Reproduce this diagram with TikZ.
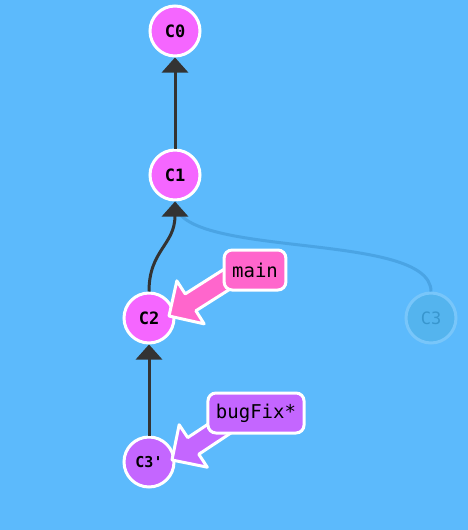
\documentclass[tikz,border=0pt]{standalone}
\usepackage{fontspec}
\setmonofont{DejaVu Sans Mono}
\usetikzlibrary{arrows.meta,calc}
\definecolor{bgblue}{RGB}{92,186,252}
\definecolor{commitpink}{RGB}{245,102,255}
\definecolor{mainpink}{RGB}{255,102,204}
\definecolor{fixpurple}{RGB}{196,102,255}
\definecolor{edgegray}{RGB}{51,51,51}
\definecolor{ghostfill}{RGB}{84,180,238}
\definecolor{ghostrim}{RGB}{120,198,250}
\definecolor{ghosttext}{RGB}{56,150,206}
\definecolor{ghostline}{RGB}{74,164,228}
\pgfdeclarelayer{front}
\pgfsetlayers{main,front}

\begin{document}
\begin{tikzpicture}[x=1pt, y=-1pt,
    commit/.style={circle, draw=white, line width=3pt, fill=commitpink, minimum size=50pt, inner sep=0pt, font=\ttfamily\bfseries\fontsize{17}{20}\selectfont},
    ghost/.style={commit, draw=ghostrim, fill=ghostfill, text=ghosttext, font=\ttfamily\fontsize{17}{20}\selectfont},
    branch/.style={rectangle, rounded corners=8pt, draw=white, line width=3pt, minimum height=40pt, inner xsep=8pt, font=\ttfamily\fontsize{19}{22}\selectfont},
    edge/.style={edgegray, line width=3pt, -{Triangle[width=26pt, length=15pt]}},
    ghostedge/.style={ghostline, line width=3pt},
    pointer/.style={draw=white, line width=3pt, line join=round}
]

% Background
\useasboundingbox (0,0) rectangle (468,530);
\fill[bgblue] (0,0) rectangle (468,530);

% Branch labels (front layer)
\begin{pgfonlayer}{front}
\node[branch, fill=mainpink] (main) at (255,270) {main};
\node[branch, fill=fixpurple] (bugfix) at (256,413) {bugFix*};
\end{pgfonlayer}

% Commits
\node[commit] (c0) at (175,31) {C0};
\node[commit] (c1) at (175,175) {C1};
\node[commit] (c2) at (149,318) {C2};
\node[ghost] (c3) at (431,318) {C3};
\node[commit, fill=fixpurple, font=\ttfamily\bfseries\fontsize{15}{18}\selectfont] (c3p) at (149,462) {C3'};

% Faded parent link
\draw[ghostedge] (c3.north) .. controls (431,230) and (175,260) .. (c1.south);

% Parent links
\draw[edge] (c1) -- (c0);
\draw[edge] (c2.north) .. controls (149,250) and (175,245) .. (c1.south);
\draw[edge] (c3p) -- (c2);

% Pointer main -> C2
\coordinate (maintip) at (169,316);
\coordinate (mainaim) at ($(main.center)!0.4!(main.north)$);
\draw[pointer, fill=mainpink] (maintip) -- ($(maintip)!36pt!45:(mainaim)$) -- ($(maintip)!27.4pt!21.4:(mainaim)$)
    -- ($(mainaim)!10pt!-90:(maintip)$) -- ($(mainaim)!10pt!90:(maintip)$)
    -- ($(maintip)!27.4pt!-21.4:(mainaim)$) -- ($(maintip)!36pt!-45:(mainaim)$) -- cycle;

% Pointer bugFix -> C3'
\coordinate (fixtip) at (172,460);
\coordinate (fixaim) at ($(bugfix.center)!0.4!(bugfix.north)$);
\draw[pointer, fill=fixpurple] (fixtip) -- ($(fixtip)!36pt!45:(fixaim)$) -- ($(fixtip)!27.4pt!21.4:(fixaim)$)
    -- ($(fixaim)!10pt!-90:(fixtip)$) -- ($(fixaim)!10pt!90:(fixtip)$)
    -- ($(fixtip)!27.4pt!-21.4:(fixaim)$) -- ($(fixtip)!36pt!-45:(fixaim)$) -- cycle;

\end{tikzpicture}
\end{document}
